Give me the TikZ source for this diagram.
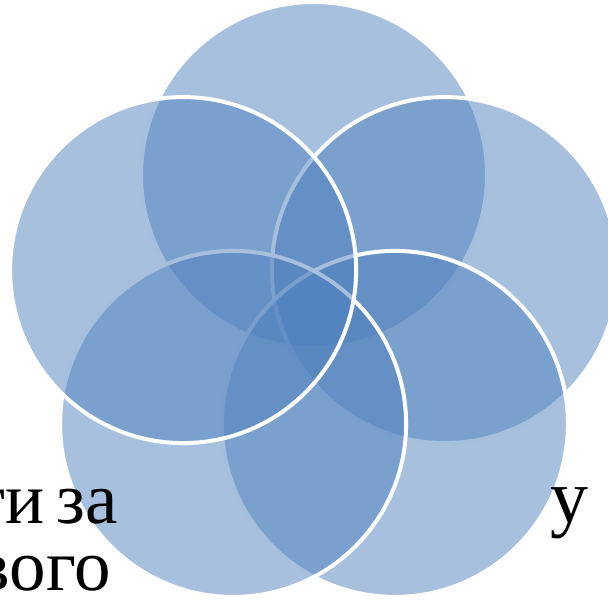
\documentclass[tikz,border=0pt]{standalone}
\usepackage{fontspec}
\setmainfont{Liberation Serif}
\usetikzlibrary{calc}
\definecolor{vennblue}{HTML}{4F81BD}
\begin{document}
\begin{tikzpicture}[x=1pt,y=-1pt,
  venn/.style={fill=vennblue,fill opacity=0.5},
  vennrim/.style={draw=white,line width=4pt},
  bigtext/.style={inner sep=0pt,font=\fontsize{73}{80}\selectfont,text=black}]
\useasboundingbox (0,0) rectangle (608,600);
\clip (0,0) rectangle (608,600);
\coordinate (O) at (314,312.6);
\def\R{137.6}
\def\r{173}
\coordinate (cT)  at ($(O)+(0,-\R)$);
\coordinate (cR)  at ($(O)+({\R*cos(18)},{-\R*sin(18)})$);
\coordinate (cBR) at ($(O)+({\R*cos(54)},{\R*sin(54)})$);
\coordinate (cBL) at ($(O)+({-\R*cos(54)},{\R*sin(54)})$);
\coordinate (cL)  at ($(O)+({-\R*cos(18)},{-\R*sin(18)})$);
\foreach \c in {cT,cR,cBR,cBL,cL}{
  \fill[venn] (\c) circle[radius=\r];
  \draw[vennrim] (\c) circle[radius=\r];
}
\node[bigtext,anchor=base east] (t1) at (118,523) {ти\hspace{12pt}за};
\node[bigtext,anchor=base east] (t2) at (111,590) {вого};
\node[bigtext,anchor=base west,font=\fontsize{76}{80}\selectfont] (t3) at (550,522) {у};
\end{tikzpicture}
\end{document}
